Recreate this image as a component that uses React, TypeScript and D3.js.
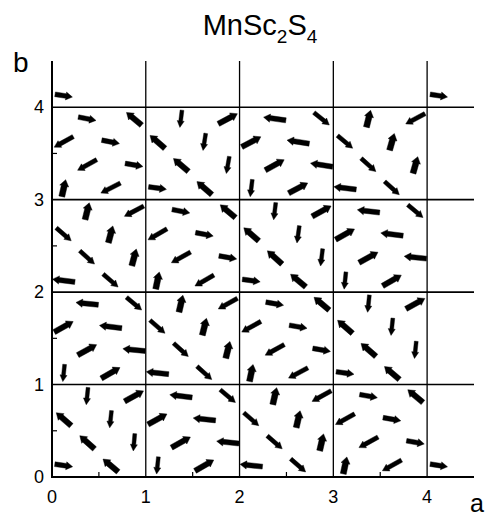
import React, { useEffect, useRef } from 'react';
import * as d3 from 'd3';

const xTicks = [0, 1, 2, 3, 4];
const yTicks = [0, 1, 2, 3, 4];
const minorTicks = [0.5, 1.5, 2.5, 3.5];
const gridLines = [1, 2, 3, 4];

// fractional positions of the Mn sites inside one unit cell
const sites = [
  [0.375, 0.875], [0.875, 0.875], [0.125, 0.625], [0.625, 0.625],
  [0.375, 0.375], [0.875, 0.375], [0.125, 0.125], [0.625, 0.125],
];

// spins per cell as [angle in degrees, projected length], cells left to right
const row3 = [
  [[-11, 0.8], [140, 0.88], [209, 0.97], [-11, 0.8], [209, 0.97], [-10, 0.8], [77, 0.77], [207, 0.97]],
  [[263, 0.77], [28, 0.96], [139, 0.88], [261, 0.77], [139, 0.88], [260, 0.77], [-8, 0.8], [139, 0.88]],
  [[172, 1], [-39, 0.88], [28, 0.96], [171, 1], [29, 0.96], [171, 1], [263, 0.77], [28, 0.96]],
  [[76, 0.77], [208, 0.97], [-40, 0.88], [74, 0.77], [-42, 0.88], [74, 0.77], [173, 1], [-42, 0.88]],
];
const row2 = [
  [[76, 0.77], [208, 0.97], [-41, 0.88], [75, 0.77], [-42, 0.88], [75, 0.77], [173, 1], [-41, 0.88]],
  [[-11, 0.8], [140, 0.88], [210, 0.97], [-11, 0.8], [209, 0.97], [-10, 0.8], [78, 0.77], [210, 0.97]],
  [[263, 0.77], [29, 0.96], [139, 0.88], [262, 0.77], [138, 0.88], [263, 0.77], [-8, 0.8], [140, 0.88]],
  [[173, 1], [-40, 0.88], [29, 0.96], [173, 1], [29, 0.96], [174, 1], [264, 0.77], [30, 0.96]],
];
const row1 = [
  [[174, 1], [-40, 0.88], [29, 0.96], [173, 1], [29, 0.96], [174, 1], [264, 0.77], [30, 0.96]],
  [[77, 0.77], [209, 0.97], [-41, 0.88], [76, 0.77], [-42, 0.88], [76, 0.77], [174, 1], [-42, 0.88]],
  [[-10, 0.8], [140, 0.88], [209, 0.97], [-10, 0.8], [209, 0.97], [-10, 0.8], [78, 0.77], [208, 0.97]],
  [[264, 0.77], [29, 0.96], [139, 0.88], [264, 0.77], [139, 0.88], [264, 0.77], [-8, 0.8], [139, 0.88]],
];
const row0 = [
  [[264, 0.77], [29, 0.96], [139, 0.88], [264, 0.77], [138, 0.88], [265, 0.77], [-8, 0.8], [140, 0.88]],
  [[173, 1], [-40, 0.88], [29, 0.96], [174, 1], [29, 0.96], [174, 1], [264, 0.77], [30, 0.96]],
  [[77, 0.77], [209, 0.97], [-41, 0.88], [77, 0.77], [-41, 0.88], [77, 0.77], [174, 1], [-41, 0.88]],
  [[-10, 0.8], [140, 0.88], [209, 0.97], [-10, 0.8], [209, 0.97], [-10, 0.8], [78, 0.77], [209, 0.97]],
];
const rows = [row0, row1, row2, row3];

// lone spins outside the 4x4 block: [x, y, angle, length]
const extraSpins = [
  [0.125, 4.125, -9, 0.78],
  [4.125, 4.125, -9, 0.78],
  [4.125, 0.125, -9, 0.78],
];

const Chart = () => {
  const ref = useRef<HTMLDivElement>(null);

  useEffect(() => {
    drawChart();
  }, []);

  const drawChart = () => {
    const width = 489;
    const height = 520;
    const font = '"Liberation Sans", Arial, Helvetica, sans-serif';

    d3.select(ref.current).selectAll('*').remove();
    const svg = d3
      .select(ref.current)
      .append('svg')
      .attr('width', width)
      .attr('height', height)
      .style('position', 'absolute')
      .style('left', 0)
      .style('top', 0)
      .style('background', '#fff');

    const xScale = d3.scaleLinear().domain([0, 4.5]).range([52, 474]);
    const yScale = d3.scaleLinear().domain([0, 4.5]).range([477, 61]);

    // collect all spins
    const spins: { x: number; y: number; a: number; len: number }[] = [];
    rows.forEach((row, r) => {
      row.forEach((cell, c) => {
        cell.forEach((s, i) => {
          spins.push({ x: c + sites[i][0], y: r + sites[i][1], a: s[0], len: s[1] });
        });
      });
    });
    extraSpins.forEach(s => spins.push({ x: s[0], y: s[1], a: s[2], len: s[3] }));

    const grid = svg.append('g').attr('stroke', '#000').attr('stroke-width', 1.6);

    gridLines.forEach(v => {
      grid
        .append('line')
        .attr('x1', xScale(v))
        .attr('x2', xScale(v))
        .attr('y1', yScale(0))
        .attr('y2', yScale(4.5))
        .attr('stroke-width', 1.3);
      grid
        .append('line')
        .attr('x1', xScale(0))
        .attr('x2', xScale(4.5))
        .attr('y1', yScale(v))
        .attr('y2', yScale(v));
    });

    // axes
    grid
      .append('line')
      .attr('x1', xScale(0))
      .attr('x2', xScale(0))
      .attr('y1', yScale(0) + 1)
      .attr('y2', yScale(4.5))
      .attr('stroke-width', 2);
    grid
      .append('line')
      .attr('x1', xScale(0) - 1)
      .attr('x2', xScale(4.5))
      .attr('y1', yScale(0))
      .attr('y2', yScale(0))
      .attr('stroke-width', 2);

    minorTicks.forEach(v => {
      grid
        .append('line')
        .attr('x1', xScale(v))
        .attr('x2', xScale(v))
        .attr('y1', yScale(0))
        .attr('y2', yScale(0) - 5)
        .attr('stroke-width', 1.2);
      grid
        .append('line')
        .attr('x1', xScale(0))
        .attr('x2', xScale(0) + 5)
        .attr('y1', yScale(v))
        .attr('y2', yScale(v))
        .attr('stroke-width', 1.2);
    });

    // tick labels
    svg
      .append('g')
      .selectAll('text')
      .data(xTicks)
      .join('text')
      .attr('x', d => xScale(d))
      .attr('y', 503)
      .attr('text-anchor', 'middle')
      .style('font-family', font)
      .style('font-size', '18px')
      .text(d => d);

    svg
      .append('g')
      .selectAll('text')
      .data(yTicks)
      .join('text')
      .attr('x', 44)
      .attr('y', d => yScale(d) + 6)
      .attr('text-anchor', 'end')
      .style('font-family', font)
      .style('font-size', '18px')
      .text(d => d);

    // arrows
    const arrowPath = (len: number, a: number) => {
      const L = 22.5 * len;
      const s = Math.sin((a * Math.PI) / 180);
      const w = 4.9 + 1.1 * s;
      const hw = w + 3.2;
      const hl = 6.5;
      const t = -L / 2;
      const h = L / 2;
      return `M${t},${-w / 2}L${h - hl},${-w / 2}L${h - hl},${-hw / 2}L${h},0L${h - hl},${hw / 2}L${h - hl},${w / 2}L${t},${w / 2}Z`;
    };

    svg
      .append('g')
      .selectAll('path')
      .data(spins)
      .join('path')
      .attr('d', d => arrowPath(d.len, d.a))
      .attr('transform', d => `translate(${xScale(d.x)},${yScale(d.y)}) rotate(${-d.a})`)
      .attr('fill', '#000')
      .attr('stroke', '#000')
      .attr('stroke-width', 0.4);

    // title
    const title = svg
      .append('text')
      .attr('x', 260)
      .attr('y', 35)
      .attr('text-anchor', 'middle')
      .style('font-family', font)
      .style('font-size', '29px');
    title.append('tspan').text('MnSc');
    title.append('tspan').attr('dy', 8).style('font-size', '19px').text('2');
    title.append('tspan').attr('dy', -8).text('S');
    title.append('tspan').attr('dy', 8).style('font-size', '19px').text('4');

    svg
      .append('text')
      .attr('x', 13)
      .attr('y', 72)
      .style('font-family', font)
      .style('font-size', '28px')
      .text('b');

    svg
      .append('text')
      .attr('x', 470)
      .attr('y', 512)
      .style('font-family', font)
      .style('font-size', '25px')
      .text('a');
  };

  return <div ref={ref} id='chart' />;
};

export default function App() {
  return <Chart />;
}
